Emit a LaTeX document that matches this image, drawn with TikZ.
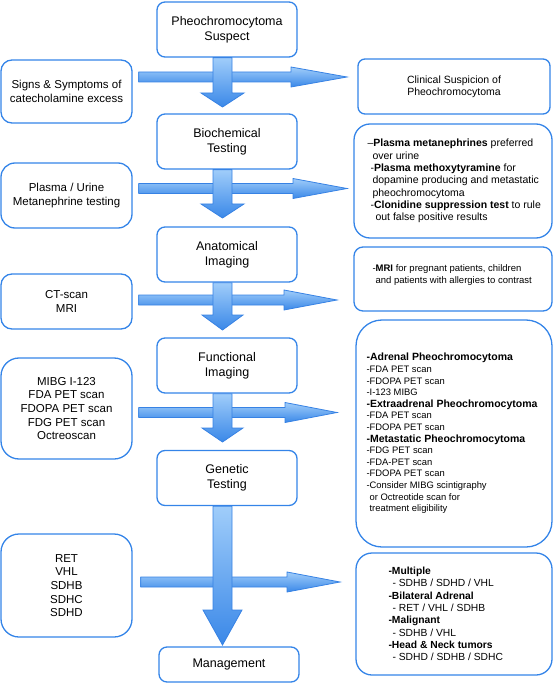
\documentclass[tikz,border=0pt]{standalone}
\usepackage{fontspec}
\setmainfont{Liberation Sans}
\usetikzlibrary{calc}
\definecolor{bord}{RGB}{52,132,232}
\definecolor{alight}{RGB}{160,205,250}
\definecolor{adark}{RGB}{58,136,232}
\definecolor{aedge}{RGB}{55,130,228}
\tikzset{
 cbox/.style={draw=bord, line width=1.3pt, rounded corners=8pt, minimum width=140pt, minimum height=55pt, inner sep=0pt, align=center, font=\fontsize{12.5}{15}\selectfont},
 lbox/.style={draw=bord, line width=1.3pt, rounded corners=14pt, minimum width=131pt, inner sep=0pt, align=center, font=\fontsize{11.5}{13.6}\selectfont},
 rbox/.style={draw=bord, line width=1.3pt, minimum width=196pt, inner sep=0pt},
 rtext/.style={anchor=west, inner sep=0pt, align=left},
 arrowshade/.style={top color=alight, bottom color=adark, draw=aedge, line width=0.8pt},
}
\newcommand\VArrow[4]{\shadedraw[arrowshade] let \p1=(#1), \p2=(#2) in
 (\x1-9.5pt,\y1) -- (\x1+9.5pt,\y1) -- (\x1+9.5pt,\y2+#3pt) -- (\x1+#4pt,\y2+#3pt) -- (\x2,\y2) -- (\x1-#4pt,\y2+#3pt) -- (\x1-9.5pt,\y2+#3pt) -- cycle;}
\newcommand\HArrow[5]{\shadedraw[arrowshade] let \p1=(#1), \p2=(#2) in
 (\x1+#5pt,\y2+5pt) -- (\x2-#3pt,\y2+5pt) -- (\x2-#3pt,\y2+#4pt) -- (\x2,\y2) -- (\x2-#3pt,\y2-#4pt) -- (\x2-#3pt,\y2-5pt) -- (\x1+#5pt,\y2-5pt) -- cycle;}
\begin{document}
\begin{tikzpicture}[x=1pt,y=-1pt]
\useasboundingbox (0,0) rectangle (553,684);
% centre column
\node[cbox] (pheo) at (227,29.5) {Pheochromocytoma\\Suspect};
\node[cbox] (bio) at (227,141.5) {Biochemical\\Testing};
\node[cbox] (anat) at (227,254.5) {Anatomical\\Imaging};
\node[cbox] (func) at (227,365.5) {Functional\\Imaging};
\node[cbox] (gen) at (227,478) {Genetic\\Testing};
\node[cbox, minimum height=35pt] (mgmt) at (229,664.5) {Management};
% left column
\node[lbox, minimum height=63pt, rounded corners=11pt] (sig) at (66.5,91.5) {Signs \& Symptoms of\\catecholamine excess};
\node[lbox, minimum height=65pt] (plas) at (66.5,195.5) {Plasma / Urine\\Metanephrine testing};
\node[lbox, minimum height=55pt, rounded corners=11pt] (ct) at (66.5,301.5) {CT-scan\\MRI};
\node[lbox, minimum height=101pt, rounded corners=18pt] (mibg) at (66.5,408.5) {MIBG I-123\\FDA PET scan\\FDOPA PET scan\\FDG PET scan\\Octreoscan};
\node[lbox, minimum height=103pt, rounded corners=18pt] (ret) at (66.5,585.5) {RET\\VHL\\SDHB\\SDHC\\SDHD};
% right column
\node[rbox, minimum width=192pt, minimum height=55pt, rounded corners=7pt, align=center, font=\fontsize{10.5}{12}\selectfont] (clin) at (454,86.5) {Clinical Suspicion of\\Pheochromocytoma};
\node[rbox, minimum width=198pt, minimum height=114pt, rounded corners=16pt] (bioR) at (453,181) {};
\node[rtext, font=\fontsize{10.5}{12.3}\selectfont] (bioT) at ([xshift=14pt]bioR.west)
 {–\textbf{Plasma metanephrines} preferred\\
  \hspace*{5pt}over urine\\
  \hspace*{3pt}-\textbf{Plasma methoxytyramine} for\\
  \hspace*{5pt}dopamine producing and metastatic\\
  \hspace*{5pt}pheochromocytoma\\
  \hspace*{3pt}-\textbf{Clonidine suppression test} to rule\\
  \hspace*{8pt}out false positive results};
\node[rbox, minimum width=198pt, minimum height=64pt, rounded corners=9pt] (anatR) at (453,279) {};
\node[rtext, font=\fontsize{9.5}{12}\selectfont] (anatT) at ([xshift=19pt,yshift=4pt]anatR.west)
 {-\textbf{MRI} for pregnant patients, children\\
  \hspace*{3pt}and patients with allergies to contrast};
\node[rbox, minimum height=227pt, rounded corners=26pt] (funcR) at (454,433.5) {};
\node[rtext, font=\fontsize{9.4}{11.6}\selectfont] (funcT) at ([xshift=11pt]funcR.west)
 {{\fontsize{10.5}{11.6}\selectfont\bfseries -Adrenal Pheochromocytoma}\\
  -FDA PET scan\\
  -FDOPA PET scan\\
  -I-123 MIBG\\
  {\fontsize{10.5}{11.6}\selectfont\bfseries -Extraadrenal Pheochromocytoma}\\
  -FDA PET scan\\
  -FDOPA PET scan\\
  {\fontsize{10.5}{11.6}\selectfont\bfseries -Metastatic Pheochromocytoma}\\
  -FDG PET scan\\
  -FDA-PET scan\\
  -FDOPA PET scan\\
  -Consider MIBG scintigraphy\\
  \hspace*{3pt}or Octreotide scan for\\
  \hspace*{3pt}treatment eligibility};
\node[rbox, minimum height=122pt, rounded corners=16pt] (genR) at (454,614) {};
\node[rtext, font=\fontsize{10.3}{12.3}\selectfont] (genT) at ([xshift=33pt]genR.west)
 {\textbf{-Multiple}\\
  \hspace*{4pt}- SDHB / SDHD / VHL\\
  \textbf{-Bilateral Adrenal}\\
  \hspace*{4pt}- RET / VHL / SDHB\\
  \textbf{-Malignant}\\
  \hspace*{4pt}- SDHB / VHL\\
  \textbf{-Head \& Neck tumors}\\
  \hspace*{4pt}- SDHD / SDHB / SDHC};
% arrow tips
\coordinate (v1) at (222.5,107);
\coordinate (v2) at (222.5,218);
\coordinate (v3) at (222.5,330);
\coordinate (v4) at (222.5,442);
\coordinate (v5) at (222.5,645);
\coordinate (h1) at (347,77);
\coordinate (h2) at (347,188.5);
\coordinate (h3) at (337,300);
\coordinate (h4) at (337,412.5);
\coordinate (h5) at (340,582);
% horizontal arrows (underneath)
\HArrow{sig.east}{h1}{56}{10}{6}
\HArrow{plas.east}{h2}{54}{10}{6}
\HArrow{ct.east}{h3}{53}{10}{6}
\HArrow{mibg.east}{h4}{52}{10}{6}
\HArrow{ret.east}{h5}{53}{10}{8}
% vertical arrows (on top)
\VArrow{v1 |- pheo.south}{v1}{14}{21.5}
\VArrow{v2 |- bio.south}{v2}{14}{21.5}
\VArrow{v3 |- anat.south}{v3}{15}{20.5}
\VArrow{v4 |- func.south}{v4}{14}{20.5}
\VArrow{v5 |- gen.south}{v5}{35}{19.5}
\end{tikzpicture}
\end{document}
